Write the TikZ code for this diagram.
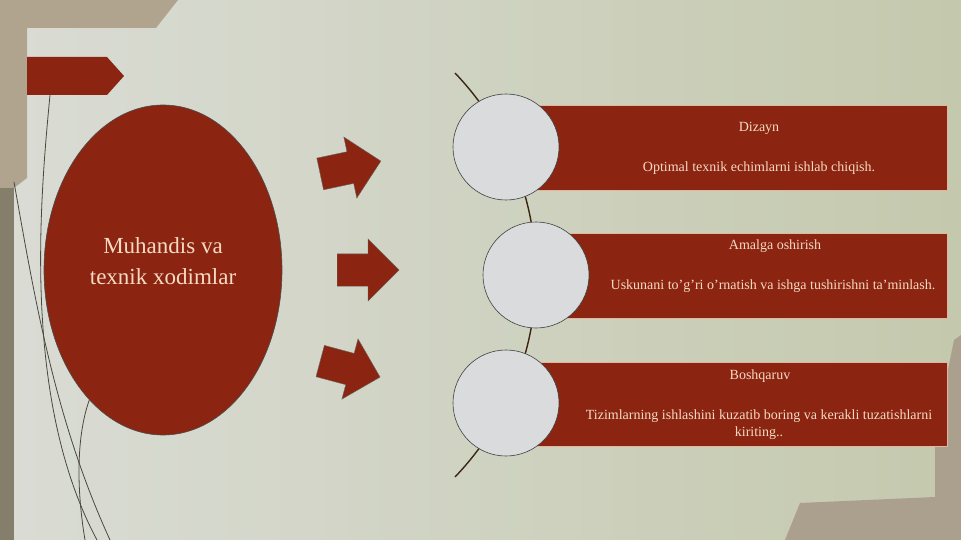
\documentclass[tikz,border=0pt]{standalone}
\usepackage{fontspec}
\setmainfont{Liberation Serif}
\usetikzlibrary{shapes,arrows,positioning}

\definecolor{brick}{RGB}{139,37,17}
\definecolor{peach}{RGB}{246,218,196}
\definecolor{disc}{RGB}{218,219,221}
\definecolor{tanband}{RGB}{176,164,143}
\definecolor{olivestrip}{RGB}{132,126,106}
\definecolor{paleleft}{RGB}{218,220,213}
\definecolor{paleright}{RGB}{196,201,173}
\definecolor{wire}{RGB}{72,72,62}

\tikzset{
    bar/.style={rectangle, fill=brick, draw=peach!80!brick, line width=0.6pt, inner sep=0},
    discnode/.style={circle, fill=disc, draw=black!75, line width=0.6pt, minimum size=106pt, inner sep=0},
    blockarrow/.style={single arrow, fill=brick, draw=black!60, line width=0.4pt, inner xsep=0, inner ysep=16pt,
        single arrow head extend=15pt, minimum height=62pt, anchor=tail},
    bartext/.style={text=peach, font=\fontsize{14}{17}\selectfont, align=center},
    spine/.style={draw=black!70!brown, line width=1.4pt},
    wireline/.style={draw=wire, line width=0.8pt}
}

\begin{document}
\begin{tikzpicture}[x=1pt,y=-1pt]

    %-----Background-----
    \useasboundingbox (0,0) rectangle (961,540);
    \fill[left color=paleleft, right color=paleright] (0,0) rectangle (961,540);
    \fill[tanband] (0,0) -- (178,0) -- (156,28) -- (27,28) -- (27,178) -- (14,188) -- (0,188) -- cycle;
    \fill[olivestrip] (0,188) -- (14,188) -- (14,540) -- (0,540) -- cycle;
    \fill[tanband!90!gray] (961,335) -- (954,340) -- (935,433) -- (935,497) -- (800,503) -- (785,540) -- (961,540) -- cycle;

    % Corner tab
    \fill[brick] (27,57) -- (107,57) -- (124,76) -- (107,95) -- (27,95) -- cycle;

    % Thin lines on the left
    \draw[wireline] (50,95) .. controls (40,200) and (22,400) .. (97,540);
    \draw[wireline] (14,182) .. controls (35,300) and (55,420) .. (110,540);
    \draw[wireline] (90,398) .. controls (78,430) and (75,480) .. (85,540);

    %-----Main shape-----
    % Staff ellipse
    \node [ellipse, fill=brick, draw=black!70, line width=0.6pt, minimum width=238pt, minimum height=330pt] (staff) at (163,270) {};
    \node [text=peach, font=\fontsize{23}{31}\selectfont, align=center] (stafftext) at (163,261) {%
        Muhandis va \\
        texnik xodimlar
    };

    % Arrows
    \node [blockarrow, rotate=12] (arr1) at (320,174) {};
    \node [blockarrow] (arr2) at (337,270) {};
    \node [blockarrow, rotate=-15] (arr3) at (320,361) {};

    %-----Steps-----
    % Spine behind the discs
    \coordinate (spinetop) at (455,73);
    \draw[spine] (spinetop) arc[start angle=-43.7, end angle=43.7, radius=292.4];

    % Bars
    \node [bar, minimum width=441pt, minimum height=85pt] (bar1) at (726.5,147.5) {};
    \node [bar, minimum width=411pt, minimum height=85pt] (bar2) at (741.5,275.5) {};
    \node [bar, minimum width=441pt, minimum height=84pt] (bar3) at (726.5,404) {};

    % Discs
    \node [discnode] (disc1) at (506,147) {};
    \node [discnode] (disc2) at (536,275) {};
    \node [discnode] (disc3) at (506,403) {};

    % Dizayn
    \node [bartext] (title1) at (759,128) {Dizayn};
    \node [bartext] (desc1) at (759,168) {Optimal texnik echimlarni ishlab chiqish.};

    % Amalga oshirish
    \node [bartext] (title2) at (775,246) {Amalga oshirish};
    \node [bartext] (desc2) at (773,286) {Uskunani to'g'ri o'rnatish va ishga tushirishni ta'minlash.};

    % Boshqaruv
    \node [bartext] (title3) at (760,376) {Boshqaruv};
    \node [bartext] (desc3) at (759,425) {%
        Tizimlarning ishlashini kuzatib boring va kerakli tuzatishlarni \\
        kiriting..
    };

\end{tikzpicture}
\end{document}
